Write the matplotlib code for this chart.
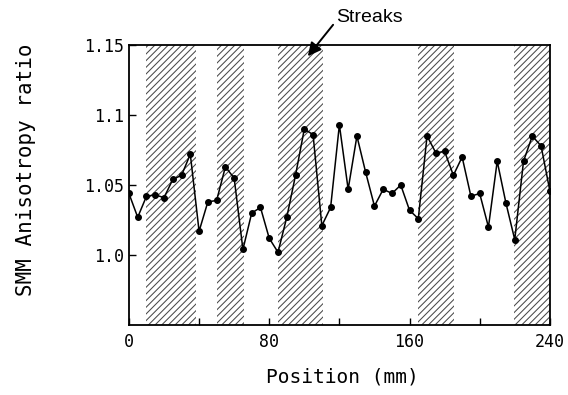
import matplotlib
matplotlib.use("Agg")
import matplotlib.pyplot as plt
from matplotlib.ticker import FixedLocator

plt.rcParams['hatch.linewidth'] = 0.75

position = list(range(0, 245, 5))
ratio = [1.044, 1.027, 1.042, 1.043, 1.041, 1.054, 1.057, 1.072, 1.017, 1.038,
         1.039, 1.063, 1.055, 1.004, 1.030, 1.034, 1.012, 1.002, 1.027, 1.057,
         1.090, 1.086, 1.021, 1.034, 1.093, 1.047, 1.085, 1.059, 1.035, 1.047,
         1.044, 1.050, 1.032, 1.026, 1.085, 1.073, 1.074, 1.057, 1.070, 1.042,
         1.044, 1.020, 1.067, 1.037, 1.011, 1.067, 1.085, 1.078, 1.046]
streak_start = [10, 50, 85, 165, 219.5]
streak_end = [38, 65.5, 110.5, 185.5, 240]
xticks = [0, 80, 160, 240]
xminor = [40, 120, 200]
yticks = [1.0, 1.05, 1.1, 1.15]
ytick_labels = ["1.0", "1.05", "1.1", "1.15"]

fig = plt.figure(figsize=(5.68, 3.95), dpi=100)
ax = fig.add_axes([0.227, 0.177, 0.741, 0.709])

for s, e in zip(streak_start, streak_end):
    ax.axvspan(s, e, facecolor='white', edgecolor='#4a4a4a', hatch='/////',
               linewidth=0, zorder=1)

ax.plot(position, ratio, color='black', linewidth=1.1, marker='o',
        markersize=4, zorder=3)

ax.set_xlim(0, 240)
ax.set_ylim(0.95, 1.15)
ax.set_xticks(xticks)
ax.set_xticklabels([str(v) for v in xticks], family='DejaVu Sans Mono', fontsize=12)
ax.xaxis.set_minor_locator(FixedLocator(xminor))
ax.set_yticks(yticks)
ax.set_yticklabels(ytick_labels, family='DejaVu Sans Mono', fontsize=12)
ax.tick_params(axis='both', which='both', direction='in', length=5, width=1)
ax.tick_params(axis='x', pad=6)
for sp in ax.spines.values():
    sp.set_linewidth(1.3)

ax.set_xlabel("Position (mm)", family='DejaVu Sans Mono', fontsize=14)
ax.set_ylabel("SMM Anisotropy ratio", family='DejaVu Sans Mono', fontsize=15)
ax.xaxis.set_label_coords(0.506, -0.186)
ax.yaxis.set_label_coords(-0.245, 0.554)
ax.xaxis.label.set_va('center')
ax.yaxis.label.set_va('center')

ax.annotate("Streaks", xy=(102, 1.142), xytext=(118, 1.170),
            textcoords='data', xycoords='data', fontsize=14,
            family='Liberation Sans', va='center', ha='left',
            arrowprops=dict(arrowstyle='-|>', color='black', lw=1.4,
                            mutation_scale=20, shrinkA=0, shrinkB=0,
                            relpos=(-0.03, 0.1)),
            annotation_clip=False)

fig.savefig("out.png", dpi=100)
